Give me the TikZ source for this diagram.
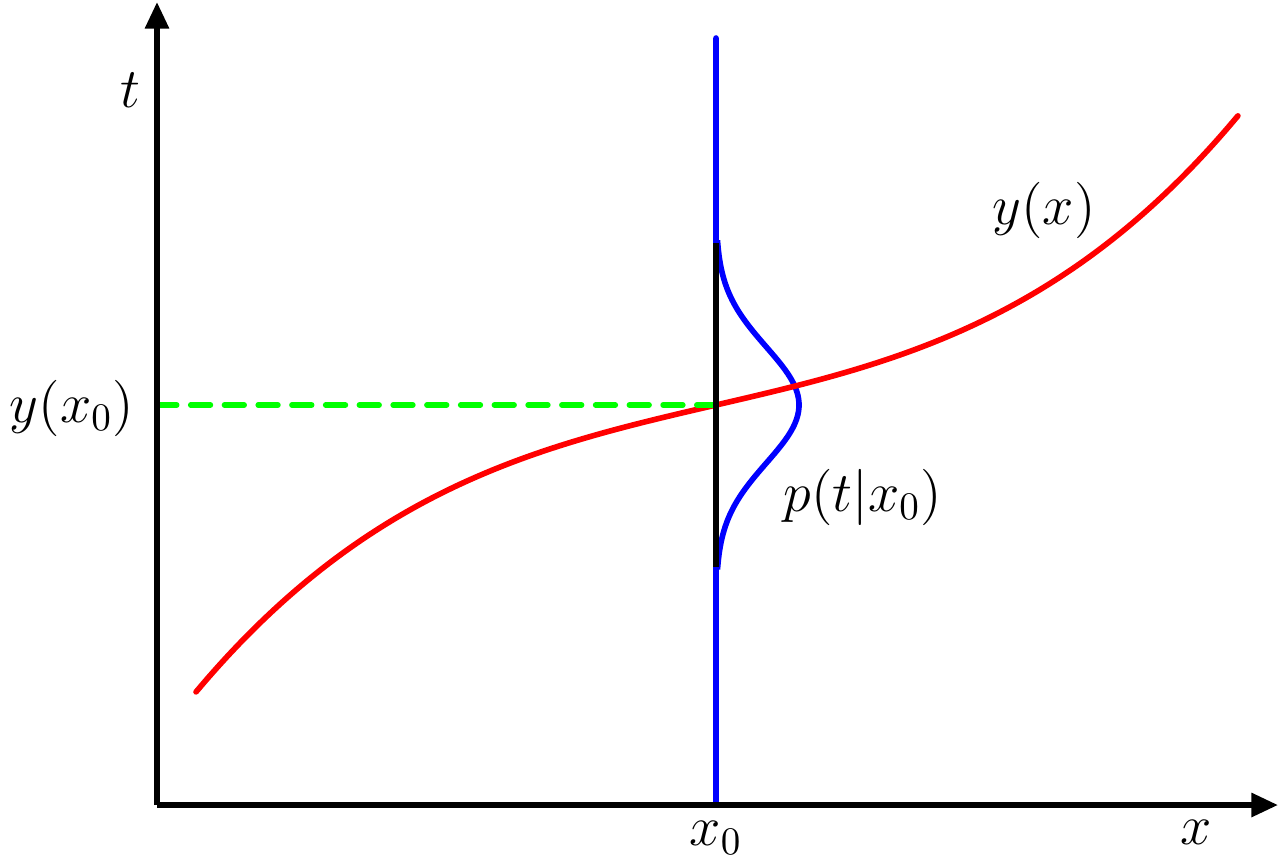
\documentclass[tikz,border=0pt]{standalone}
\usepackage{tikz}
\usetikzlibrary{arrows.meta}
\usepackage{xcolor}
\usepackage{amsmath}

\begin{document}
\begin{tikzpicture}[
  font=\Large,
  axis/.style={line width=1.6pt, -{Triangle[length=7.6pt, width=6.6pt]}},
  curve/.style={line width=1.6pt, line cap=round},
  lbl/.style={inner sep=0pt, anchor=center, scale=1.11, transform shape}
]
\useasboundingbox (-1.57,-0.57) rectangle (11.23,8.05);
\coordinate (o) at (0,0);
\coordinate (xend) at (11.21,0);
\coordinate (tend) at (0,8.03);
\coordinate (y0) at (0,4);
\coordinate (p0) at (5.59,4);
\coordinate (top) at (5.59,7.67);
\coordinate (bot) at (5.59,0);
\coordinate (pu) at (5.59,5.62);
\coordinate (pl) at (5.59,2.38);

\draw[curve, blue] (top) -- (pu)
  -- plot[domain=1.62:-1.62, samples=80, smooth] ({5.59+0.83*exp(-(\x)^2/(2*0.58^2))}, {4+\x})
  -- (pl) -- (bot);
\draw[curve, red] plot[domain=-5.2:5.22, samples=100, smooth] ({5.59+\x}, {4+0.232*\x+0.01182*(\x)^3});
\draw[line width=1.6pt, green, line cap=round, dash pattern=on 5.6pt off 4pt] (y0) -- (p0);
\draw[line width=1.6pt] (pl) -- (pu);
\draw[axis] (o) -- (xend);
\draw[axis] (o) -- (tend);

\node[lbl] (tlbl) at (-0.27,7.15) {$t$};
\node[lbl] (xlbl) at (10.39,-0.27) {$x$};
\node[lbl] (x0lbl) at (5.59,-0.33) {$x_0$};
\node[lbl] (y0lbl) at (-0.85,3.97) {$y(x_0)$};
\node[lbl] (ylbl) at (8.87,5.95) {$y(x)$};
\node[lbl] (plbl) at (7.06,3.08) {$p(t|x_0)$};
\end{tikzpicture}
\end{document}
